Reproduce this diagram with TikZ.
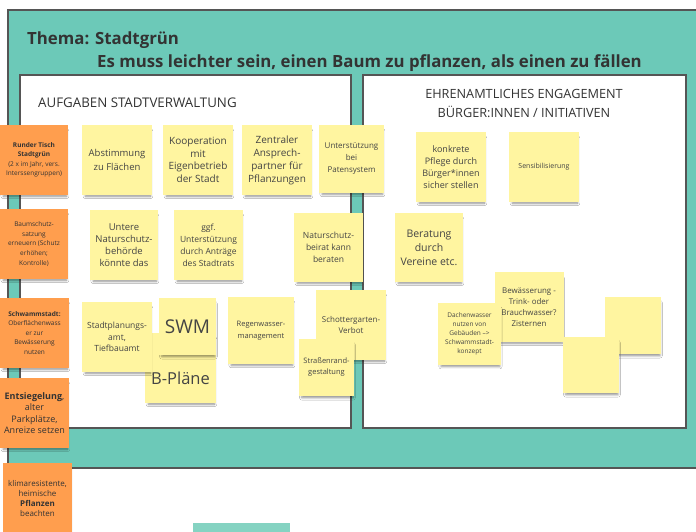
\documentclass[tikz,border=0pt]{standalone}
\usepackage{fontspec}
\setmainfont{Open Sans}
\usetikzlibrary{shadows.blur}
\definecolor{tealbg}{RGB}{108,201,184}
\definecolor{teallight}{RGB}{133,211,194}
\definecolor{frameline}{RGB}{85,85,85}
\definecolor{noteyellow}{RGB}{255,245,160}
\definecolor{noteorange}{RGB}{255,158,78}
\definecolor{inkgray}{RGB}{51,51,51}
\definecolor{notegray}{RGB}{68,68,68}
\begin{document}
\begin{tikzpicture}[x=1pt,y=-1pt,
  frame/.style={draw=frameline, line width=1.4pt},
  panel/.style={draw=frameline, line width=1.4pt, fill=white},
  note/.style={inner sep=1pt, align=center, text=notegray,
    blur shadow={shadow xshift=1pt, shadow yshift=-4pt, shadow scale=0.93, shadow blur steps=6, shadow opacity=45, shadow blur radius=2.5pt}},
  ynote/.style={note, fill=noteyellow},
  onote/.style={note, fill=noteorange, text=inkgray},
  fs/.style 2 args={font=\fontsize{#1}{#2}\selectfont}
]
\useasboundingbox (0,0) rectangle (696,532);
\fill[white] (0,0) rectangle (696,532);
% frame
\draw[frame, fill=tealbg] (8,10) rectangle (704,468);
\fill[teallight] (193,523) rectangle (290,536);
% panels
\draw[panel] (20,75) rectangle (351,428);
\draw[panel] (363,75) rectangle (686,428);
% titles
\node[anchor=west, inner sep=0, text=inkgray, font=\fontsize{16.8}{20}\selectfont\bfseries] (t1) at (27,40) {Thema: Stadtgrün};
\node[anchor=west, inner sep=0, text=inkgray, font=\fontsize{16.8}{20}\selectfont\bfseries] (t2) at (97,63) {Es muss leichter sein, einen Baum zu pflanzen, als einen zu fällen};
\node[anchor=west, inner sep=0, text=inkgray, font=\fontsize{13.3}{19}\selectfont] (h1) at (38,103) {AUFGABEN STADTVERWALTUNG};
\node[align=center, inner sep=0, text=inkgray, font=\fontsize{12.7}{19}\selectfont] (h2) at (524,103) {EHRENAMTLICHES ENGAGEMENT\\BÜRGER:INNEN / INITIATIVEN};

% orange notes
\node[onote, minimum width=68, minimum height=70, fs={6.5}{9.5}] (o1) at (34,160) {\textbf{Runder Tisch}\\\textbf{Stadtgrün}\\(2 x im Jahr, vers.\\Interssengruppen)};
\node[onote, minimum width=68, minimum height=70, fs={6.5}{9.7}] (o2) at (34,244) {Baumschutz-\\satzung\\erneuern (Schutz\\erhöhen;\\Kontrolle)};
\node[onote, minimum width=69, minimum height=70, fs={6.5}{9.5}] (o3) at (34.5,333) {\textbf{Schwammstadt:}\\Oberflächenwass\\er zur\\Bewässerung\\nutzen};
\node[onote, minimum width=69, minimum height=70, fs={9}{11.3}] (o4) at (34.5,413) {\textbf{Entsiegelung},\\alter\\Parkplätze,\\Anreize setzen};
\node[onote, minimum width=69, minimum height=70, fs={8}{10}] (o5) at (37.5,498) {klimaresistente,\\heimische\\\textbf{Pflanzen}\\beachten};

% yellow notes - left panel
\node[ynote, minimum width=70, minimum height=70, fs={9.5}{13.5}] (y1) at (117,160) {Abstimmung\\zu Flächen};
\node[ynote, minimum width=70, minimum height=70, fs={10}{12.5}] (y2) at (198,160) {Kooperation\\mit\\Eigenbetrieb\\der Stadt};
\node[ynote, minimum width=70, minimum height=70, fs={10}{13}] (y3) at (277,160) {Zentraler\\Ansprech-\\partner für\\Pflanzungen};
\node[ynote, minimum width=65, minimum height=68, fs={8}{12}] (y4) at (351.5,159) {Unterstützung\\bei\\Patensystem};
\node[ynote, minimum width=68, minimum height=70, fs={9.5}{12}] (y5) at (124,245) {Untere\\Naturschutz-\\behörde\\könnte das};
\node[ynote, minimum width=69, minimum height=70, fs={8.5}{12}] (y6) at (208.5,245) {ggf.\\Unterstützung\\durch Anträge\\des Stadtrats};
\node[ynote, minimum width=69, minimum height=69, fs={8.5}{12}] (y7) at (328.5,247.5) {Naturschutz-\\beirat kann\\beraten};

\node[ynote, minimum width=71, minimum height=70] (y12) at (180.5,368) {};
\node[text=notegray, inner sep=0, font=\fontsize{16.5}{20}\selectfont] (y12t) at ([yshift=-10pt]y12.center) {B-Pläne};
\node[ynote, minimum width=70, minimum height=70, fs={8.5}{11.5}] (y11) at (117,337) {Stadtplanungs-\\amt,\\Tiefbauamt};
\node[ynote, minimum width=57, minimum height=57, fs={19}{22}] (y13) at (187.5,326.5) {SWM};
\node[ynote, minimum width=66, minimum height=67, fs={7.5}{12.5}] (y14) at (261,330.5) {Regenwasser-\\management};
\node[ynote, minimum width=70, minimum height=70, fs={8}{10.5}] (y15) at (351,325) {Schottergarten-\\Verbot};
\node[ynote, minimum width=55, minimum height=57, fs={7.5}{11}] (y16) at (326.5,367.5) {Straßenrand-\\gestaltung};

% yellow notes - right panel
\node[ynote, minimum width=68, minimum height=69, fs={10.5}{14}] (y8) at (429,247.5) {Beratung\\durch\\Vereine etc.};
\node[ynote, minimum width=70, minimum height=70, fs={9}{12}] (y9) at (451,167) {konkrete\\Pflege durch\\Bürger*innen\\sicher stellen};
\node[ynote, minimum width=70, minimum height=70, fs={7}{9}] (y10) at (544,167) {Sensibilisierung};
\node[ynote, minimum width=69, minimum height=70, fs={7.9}{11}] (y17) at (529,307) {Bewässerung -\\Trink- oder\\Brauchwasser?\\Zisternen};
\node[ynote, minimum width=63, minimum height=62, fs={6.5}{9}] (y18) at (469.5,334) {Dachenwasser\\nutzen von\\Gebäuden -->\\Schwammstadt-\\konzept};
\node[ynote, minimum width=56, minimum height=57] (y20) at (633,325.5) {};
\node[ynote, minimum width=56, minimum height=56] (y19) at (591,365) {};
\end{tikzpicture}
\end{document}
